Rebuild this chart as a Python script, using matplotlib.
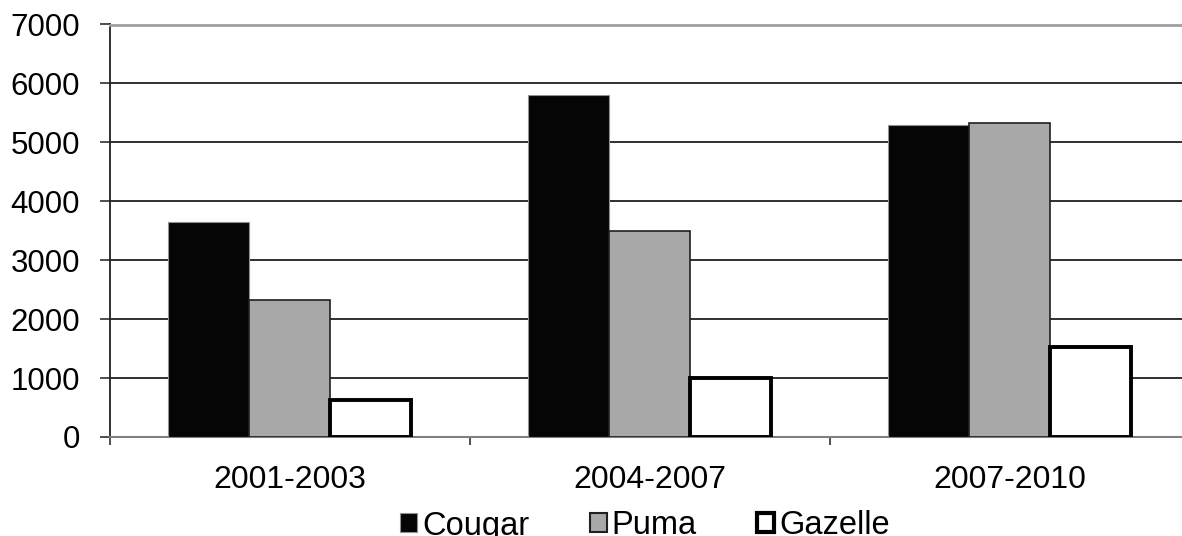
import matplotlib
matplotlib.use("Agg")
import numpy as np
import matplotlib.pyplot as plt
from matplotlib.patches import Patch

plt.rcParams['font.family'] = ['Liberation Sans', 'DejaVu Sans']

periods = ['2001-2003', '2004-2007', '2007-2010']
series_names = ['Cougar', 'Puma', 'Gazelle']
cougar = [3650, 5800, 5300]
puma = [2320, 3490, 5320]
gazelle = [630, 1000, 1520]
y_ticks = [0, 1000, 2000, 3000, 4000, 5000, 6000, 7000]

styles = [
    dict(facecolor='#050505', edgecolor='#909090', linewidth=0.8),
    dict(facecolor='#a8a8a8', edgecolor='#202020', linewidth=1.2),
    dict(facecolor='white', edgecolor='black', linewidth=2.8),
]

fig = plt.figure(figsize=(11.82, 5.36), dpi=100, facecolor='white')
# axes run a little past the right edge of the canvas
ax = fig.add_axes((110 / 1182, 1 - 437 / 536, 1080 / 1182, (437 - 24.5) / 536))

x = np.arange(len(periods))
width = 0.225
for i, (vals, st) in enumerate(zip([cougar, puma, gazelle], styles)):
    ax.bar(x + (i - 1) * width, vals, width, zorder=3, **st)

ax.set_xlim(-0.5, 2.5)
ax.set_ylim(0, 7000)
ax.set_yticks(y_ticks)
ax.set_yticklabels([str(t) for t in y_ticks], fontsize=22.5)
ax.yaxis.grid(True, color='#202020', linewidth=1.3, zorder=0)
ax.set_axisbelow(True)

ax.set_xticks(x)
ax.set_xticklabels(periods, fontsize=23)
ax.set_xticks(np.arange(-0.5, 3.0, 1.0), minor=True)
ax.tick_params(axis='x', which='major', length=0, pad=20)
ax.tick_params(axis='x', which='minor', length=6, width=1.2, color='#303030', direction='out')
ax.tick_params(axis='y', length=7.5, width=1.2, color='#303030', pad=14)

ax.spines['right'].set_visible(False)
ax.spines['top'].set_color('#a0a0a0')
ax.spines['top'].set_linewidth(2)
ax.spines['left'].set_color('#202020')
ax.spines['left'].set_linewidth(1.3)
ax.spines['bottom'].set_color('#808080')
ax.spines['bottom'].set_linewidth(1.5)

handles = [Patch(label=n, **st) for n, st in zip(series_names, styles)]
handles[1].set_linewidth(1.5)
handles[2].set_linewidth(3)
fig.legend(handles=handles, loc='center', bbox_to_anchor=(645 / 1182, 1 - 526 / 536),
           ncol=3, frameon=False, fontsize=23.5, handlelength=0.52, handleheight=0.52,
           handletextpad=0.15, columnspacing=1.85, borderaxespad=0, borderpad=0)

fig.savefig('out.png', dpi=100, facecolor='white')
